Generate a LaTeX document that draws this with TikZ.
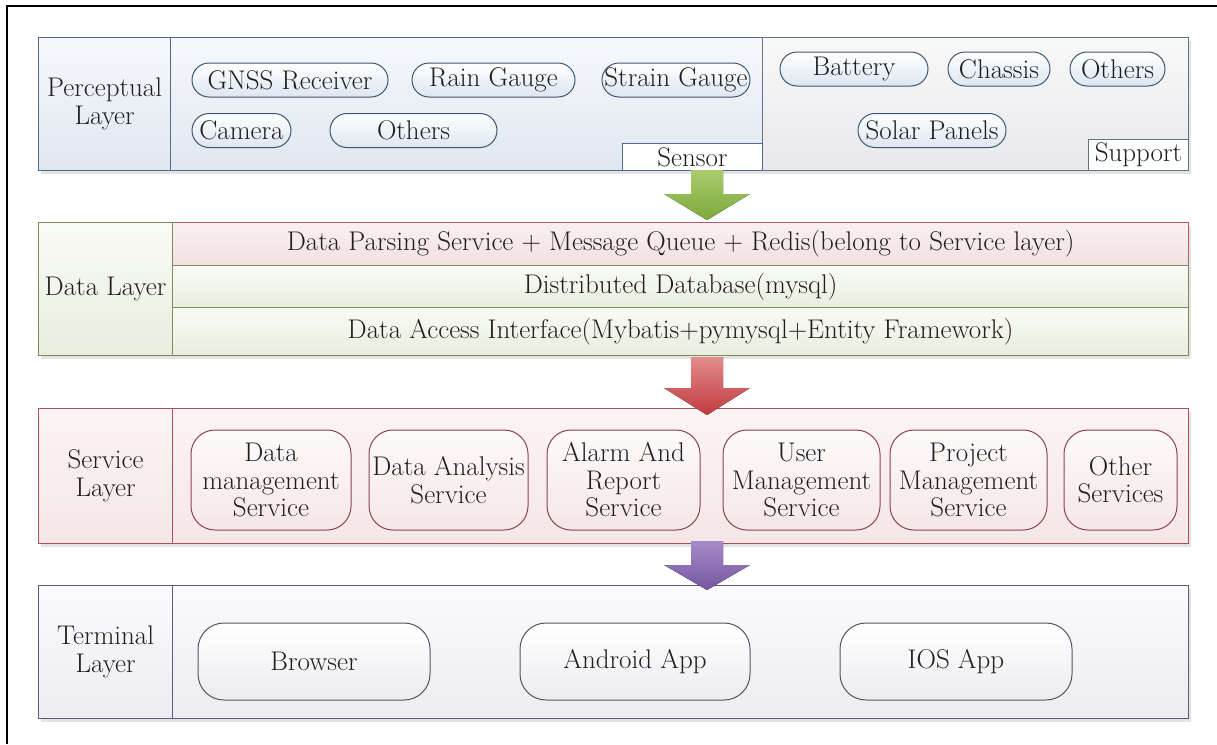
\documentclass[tikz,border=0pt]{standalone}
\usetikzlibrary{positioning,calc,shadows}

\definecolor{perBd}{HTML}{4F6A8A}
\definecolor{perTop}{HTML}{F6F8FC}
\definecolor{perBot}{HTML}{E0E7F0}
\definecolor{supTop}{HTML}{F9F9F9}
\definecolor{supBot}{HTML}{E8E8EC}
\definecolor{pillBd}{HTML}{3F5673}
\definecolor{pillBot}{HTML}{DDE6F2}
\definecolor{datBd}{HTML}{7E8B58}
\definecolor{datTop}{HTML}{F9FBF5}
\definecolor{datBot}{HTML}{E8EDDE}
\definecolor{rowBd}{HTML}{B45A6A}
\definecolor{rowTop}{HTML}{FAF0F0}
\definecolor{rowBot}{HTML}{F2E0E1}
\definecolor{svcBd}{HTML}{A8505C}
\definecolor{svcTop}{HTML}{FCF4F4}
\definecolor{svcBot}{HTML}{F5E6E7}
\definecolor{boxBd}{HTML}{8E4250}
\definecolor{trmBd}{HTML}{5B5B7D}
\definecolor{trmTop}{HTML}{FBFBFD}
\definecolor{trmBot}{HTML}{ECECF1}
\definecolor{appBd}{HTML}{55555F}
\definecolor{arrGa}{HTML}{A9CB6E}
\definecolor{arrGb}{HTML}{7DA93A}
\definecolor{arrRa}{HTML}{E28C8D}
\definecolor{arrRb}{HTML}{C03A3D}
\definecolor{arrPa}{HTML}{A68BC9}
\definecolor{arrPb}{HTML}{7556A0}

\begin{document}
\begin{tikzpicture}[x=1pt, y=-1pt,
    font=\fontsize{27}{28}\selectfont, text=black!88,
    layer/.style={draw, line width=1.2pt, anchor=north west, inner sep=0pt,
                  minimum width=1150pt, minimum height=133pt,
                  drop shadow={opacity=0.22, shadow xshift=2pt, shadow yshift=-3pt}},
    lbl/.style={draw, line width=1.2pt, anchor=north west, inner sep=0pt,
                minimum width=134pt, minimum height=133pt, align=center},
    zone/.style={draw, line width=1.2pt, anchor=north west, inner sep=0pt},
    tag/.style={draw, line width=0.9pt, fill=white, anchor=north west, inner sep=0pt},
    pill/.style={draw=pillBd, line width=1pt, top color=white, bottom color=pillBot,
                 rounded corners=17pt, minimum height=34pt, inner sep=0pt},
    svc/.style={draw=boxBd, line width=1pt, top color=white!60!svcTop, bottom color=svcBot,
                rounded corners=24pt, minimum height=100pt, inner sep=0pt, align=center,
                font=\fontsize{27}{27.5}\selectfont},
    app/.style={draw=appBd, line width=1pt, top color=white, bottom color=trmBot,
                rounded corners=26pt, minimum height=77pt, inner sep=0pt}]

  %% page frame (only top and left edges are in view)
  \useasboundingbox (0,0) rectangle (1217,744);
  \draw[line width=2pt] (7,744) -- (7,6) -- (1217,6);

  %% ---- perceptual layer ----
  \node[layer, draw=perBd, top color=perTop, bottom color=perBot] (per) at (38,37) {};
  \node[zone, draw=perBd, top color=perTop, bottom color=perBot,
        minimum width=592pt, minimum height=133pt] (sen) at (170,37) {};
  \node[zone, draw=perBd!60!gray, top color=supTop, bottom color=supBot,
        minimum width=426pt, minimum height=133pt] (sup) at (762,37) {};
  \node[lbl, draw=perBd, top color=perTop, bottom color=perBot,
        minimum width=132pt] (perL) at (38,37) {Perceptual\\Layer};
  \node[tag, draw=perBd, minimum width=140pt, minimum height=27pt] (senT) at (622,143) {Sensor};
  \node[tag, draw=perBd!60!gray, minimum width=100pt, minimum height=31pt] (supT) at (1088,139) {Support};

  \node[pill, minimum width=196pt] (gnss) at (290,80) {GNSS Receiver};
  \node[pill, minimum width=163pt] (rain) at (493.5,80) {Rain Gauge};
  \node[pill, minimum width=148pt] (strain) at (676,80) {Strain Gauge};
  \node[pill, minimum width=99pt] (cam) at (241.5,130.5) {Camera};
  \node[pill, minimum width=167pt] (othS) at (413.5,130.5) {Others};
  \node[pill, minimum width=148pt] (bat) at (854,69) {Battery};
  \node[pill, minimum width=102pt] (chs) at (999,69) {Chassis};
  \node[pill, minimum width=95pt] (othP) at (1117.5,69) {Others};
  \node[pill, minimum width=148pt] (sol) at (932,130.5) {Solar Panels};

  %% ---- data layer ----
  \node[layer, draw=datBd, top color=datTop, bottom color=datBot] (dat) at (38,222) {};
  \node[zone, draw=rowBd, top color=rowTop, bottom color=rowBot,
        minimum width=1016pt, minimum height=43pt] (row1) at (172,222)
    {Data Parsing Service + Message Queue + Redis(belong to Service layer)};
  \node[zone, draw=datBd, top color=datTop, bottom color=datBot,
        minimum width=1016pt, minimum height=42pt] (row2) at (172,265)
    {Distributed Database(mysql)};
  \node[zone, draw=datBd, top color=datTop, bottom color=datBot,
        minimum width=1016pt, minimum height=48pt] (row3) at (172,307)
    {Data Access Interface(Mybatis+pymysql+Entity Framework)};
  \node[lbl, draw=datBd, top color=datTop, bottom color=datBot] (datL) at (38,222) {Data Layer};

  %% ---- service layer ----
  \node[layer, draw=svcBd, top color=svcTop, bottom color=svcBot, minimum height=135pt] (ser) at (38,408) {};
  \node[lbl, draw=svcBd, top color=svcTop, bottom color=svcBot, minimum height=135pt] (serL) at (38,408)
    {Service\\Layer};
  \node[svc, minimum width=160pt] (dm) at (271,480) {Data\\management\\Service};
  \node[svc, minimum width=159pt] (da) at (448.5,480) {Data Analysis\\Service};
  \node[svc, minimum width=153pt] (ar) at (623.5,480) {Alarm And\\Report\\Service};
  \node[svc, minimum width=157pt] (um) at (801.5,480) {User\\Management\\Service};
  \node[svc, minimum width=157pt] (pm) at (968.5,480) {Project\\Management\\Service};
  \node[svc, minimum width=113pt] (os) at (1120.5,480) {Other\\Services};

  %% ---- terminal layer ----
  \node[layer, draw=trmBd, top color=trmTop, bottom color=trmBot] (trm) at (38,585) {};
  \node[lbl, draw=trmBd, top color=trmTop, bottom color=trmBot] (trmL) at (38,585) {Terminal\\Layer};
  \node[app, minimum width=232pt] (brw) at (314,661.5) {Browser};
  \node[app, minimum width=230pt] (and) at (635,661.5) {Android App};
  \node[app, minimum width=232pt] (ios) at (956,661.5) {IOS App};

  %% block arrows between the layers
  \foreach \yt/\yb/\yp/\ca/\cb in {170/194/220/arrGa/arrGb,
                                   357/388/415/arrRa/arrRb,
                                   541/565/590/arrPa/arrPb}
    \fill[top color=\ca, bottom color=\cb]
      (691,\yt) -- (723,\yt) -- (723,\yb) -- (750,\yb) -- (707,\yp)
      -- (664,\yb) -- (691,\yb) -- cycle;
\end{tikzpicture}
\end{document}
